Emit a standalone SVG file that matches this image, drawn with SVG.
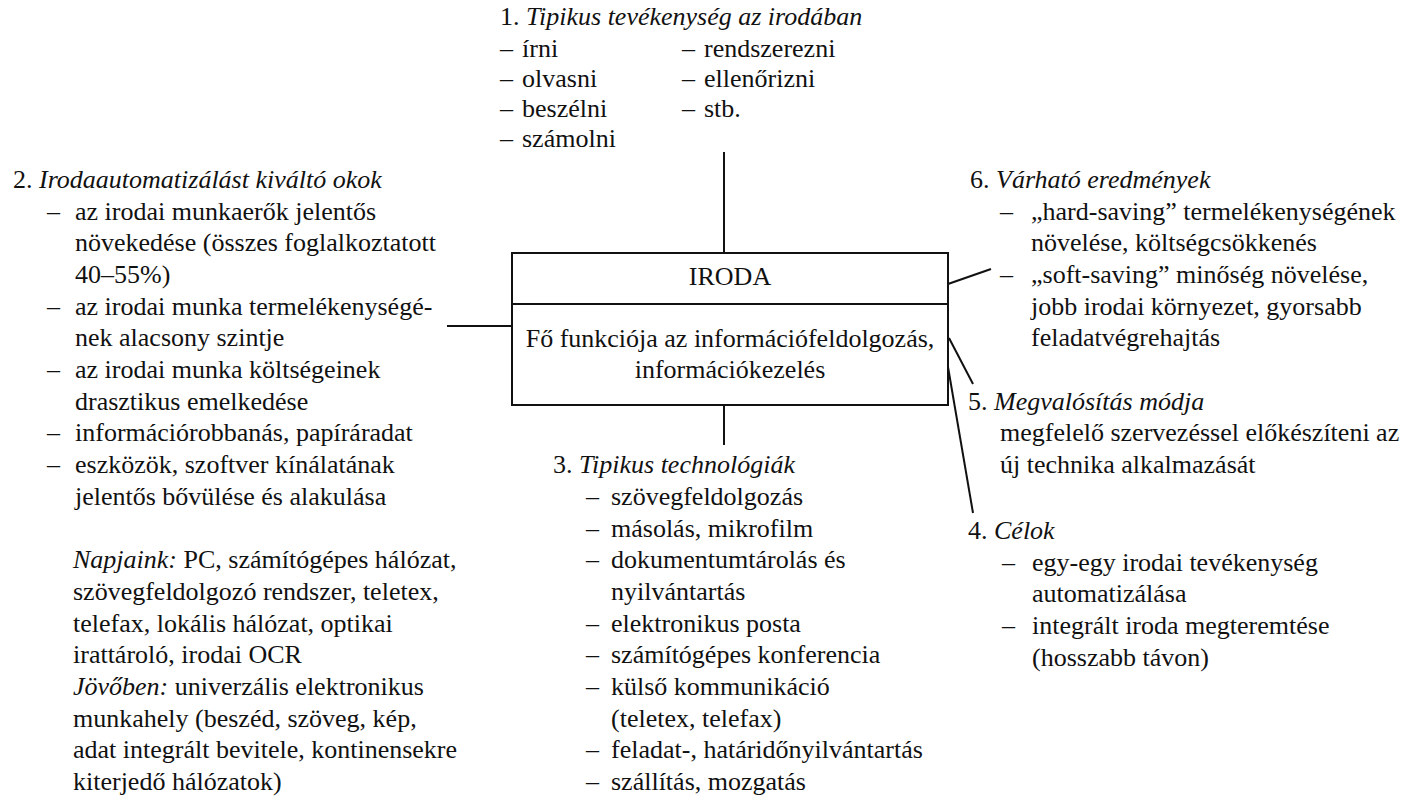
<svg xmlns="http://www.w3.org/2000/svg" width="1416" height="806" viewBox="0 0 1416 806">
<style>
text { font-family: "Liberation Serif", "Times New Roman", serif; font-size: 26px; fill: #111; }
.i { font-style: italic; }
.ln { stroke: #111; stroke-width: 2; fill: none; }
</style>
<rect width="1416" height="806" fill="#fff"/>
<g id="connectors">
  <line class="ln" x1="724" y1="152" x2="724" y2="253"/>
  <line class="ln" x1="724" y1="405" x2="724" y2="445"/>
  <line class="ln" x1="447" y1="326" x2="512" y2="326"/>
  <line class="ln" x1="948" y1="284" x2="991" y2="269"/>
  <line class="ln" x1="949" y1="338" x2="973" y2="384"/>
  <line class="ln" x1="948" y1="367" x2="973" y2="513"/>
</g>
<g id="iroda">
  <rect class="ln" x="512" y="253" width="436" height="152"/>
  <line class="ln" x1="512" y1="304" x2="948" y2="304"/>
  <text x="730" y="285" text-anchor="middle">IRODA</text>
  <text x="730" y="347" text-anchor="middle">Fő funkciója az információfeldolgozás,</text>
  <text x="730" y="378" text-anchor="middle">információkezelés</text>
</g>
<g id="n1">
  <text x="500" y="25">1. <tspan class="i">Tipikus tevékenység az irodában</tspan></text>
  <text x="500" y="57">–</text><text x="522" y="57">írni</text>
  <text x="500" y="87">–</text><text x="522" y="87">olvasni</text>
  <text x="500" y="117">–</text><text x="522" y="117">beszélni</text>
  <text x="500" y="147">–</text><text x="522" y="147">számolni</text>
  <text x="682" y="57">–</text><text x="704" y="57">rendszerezni</text>
  <text x="682" y="87">–</text><text x="704" y="87">ellenőrizni</text>
  <text x="682" y="117">–</text><text x="704" y="117">stb.</text>
</g>
<g id="n2">
  <text x="13" y="187.8">2. <tspan class="i">Irodaautomatizálást kiváltó okok</tspan></text>
  <text x="47" y="219.5">–</text><text x="75" y="219.5">az irodai munkaerők jelentős</text>
  <text x="75" y="251.2">növekedése (összes foglalkoztatott</text>
  <text x="75" y="282.9">40–55%)</text>
  <text x="47" y="314.6">–</text><text x="75" y="314.6">az irodai munka termelékenységé-</text>
  <text x="75" y="346.3">nek alacsony szintje</text>
  <text x="47" y="378">–</text><text x="75" y="378">az irodai munka költségeinek</text>
  <text x="75" y="409.7">drasztikus emelkedése</text>
  <text x="47" y="441.4">–</text><text x="75" y="441.4">információrobbanás, papíráradat</text>
  <text x="47" y="473.1">–</text><text x="75" y="473.1">eszközök, szoftver kínálatának</text>
  <text x="75" y="504.8">jelentős bővülése és alakulása</text>
  <text x="73" y="568.2"><tspan class="i">Napjaink:</tspan> PC, számítógépes hálózat,</text>
  <text x="73" y="599.9">szövegfeldolgozó rendszer, teletex,</text>
  <text x="73" y="631.6">telefax, lokális hálózat, optikai</text>
  <text x="73" y="663.3">irattároló, irodai OCR</text>
  <text x="73" y="695"><tspan class="i">Jövőben:</tspan> univerzális elektronikus</text>
  <text x="73" y="726.7">munkahely (beszéd, szöveg, kép,</text>
  <text x="73" y="758.4">adat integrált bevitele, kontinensekre</text>
  <text x="73" y="790.1">kiterjedő hálózatok)</text>
</g>
<g id="n3">
  <text x="553" y="473.1">3. <tspan class="i">Tipikus technológiák</tspan></text>
  <text x="586" y="504.8">–</text><text x="611" y="504.8">szövegfeldolgozás</text>
  <text x="586" y="536.5">–</text><text x="611" y="536.5">másolás, mikrofilm</text>
  <text x="586" y="568.2">–</text><text x="611" y="568.2">dokumentumtárolás és</text>
  <text x="611" y="599.9">nyilvántartás</text>
  <text x="586" y="631.6">–</text><text x="611" y="631.6">elektronikus posta</text>
  <text x="586" y="663.3">–</text><text x="611" y="663.3">számítógépes konferencia</text>
  <text x="586" y="695">–</text><text x="611" y="695">külső kommunikáció</text>
  <text x="611" y="726.7">(teletex, telefax)</text>
  <text x="586" y="758.4">–</text><text x="611" y="758.4">feladat-, határidőnyilvántartás</text>
  <text x="586" y="790.1">–</text><text x="611" y="790.1">szállítás, mozgatás</text>
</g>
<g id="n6">
  <text x="970" y="187.8">6. <tspan class="i">Várható eredmények</tspan></text>
  <text x="1000" y="219.5">–</text><text x="1031" y="219.5">„hard-saving” termelékenységének</text>
  <text x="1031" y="251.2">növelése, költségcsökkenés</text>
  <text x="1000" y="282.9">–</text><text x="1031" y="282.9">„soft-saving” minőség növelése,</text>
  <text x="1031" y="314.6">jobb irodai környezet, gyorsabb</text>
  <text x="1031" y="346.3">feladatvégrehajtás</text>
</g>
<g id="n5">
  <text x="968" y="409.7">5. <tspan class="i">Megvalósítás módja</tspan></text>
  <text x="1000" y="441.4">megfelelő szervezéssel előkészíteni az</text>
  <text x="1000" y="473.1">új technika alkalmazását</text>
</g>
<g id="n4">
  <text x="968" y="539">4. <tspan class="i">Célok</tspan></text>
  <text x="1002" y="570.7">–</text><text x="1032" y="570.7">egy-egy irodai tevékenység</text>
  <text x="1032" y="602.4">automatizálása</text>
  <text x="1002" y="634.1">–</text><text x="1032" y="634.1">integrált iroda megteremtése</text>
  <text x="1032" y="665.8">(hosszabb távon)</text>
</g>
</svg>
